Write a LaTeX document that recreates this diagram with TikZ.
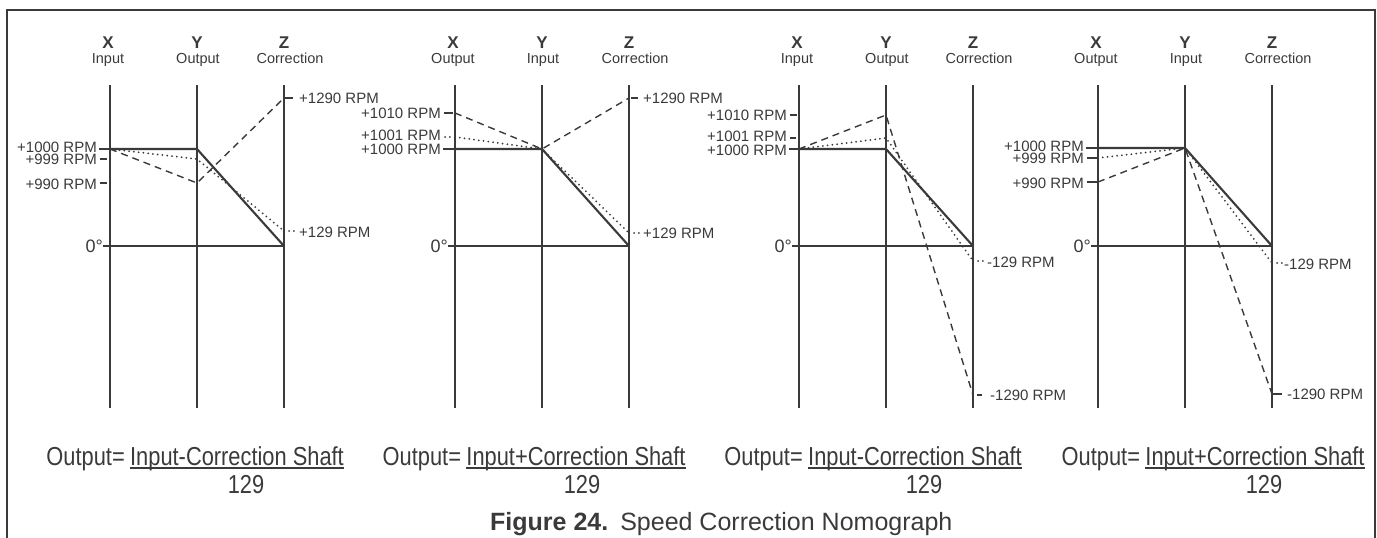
\documentclass[tikz,border=0pt]{standalone}
\usepackage{fontspec}
\setmainfont{Liberation Sans}
\newfontfamily\narrowfont{Liberation Sans}[FakeStretch=0.84]
\usetikzlibrary{positioning}
\definecolor{ink}{RGB}{58,58,58}

\tikzset{
  frame/.style={draw=ink, line width=2.2pt},
  axis/.style={draw=ink, line width=1.7pt},
  solidpath/.style={draw=ink, line width=2.1pt, line join=round},
  dashpath/.style={draw=ink, line width=1.4pt, dash pattern=on 7pt off 5pt},
  dotpath/.style={draw=ink, line width=2pt, line cap=round, dash pattern=on 0pt off 4.8pt},
  tick/.style={draw=ink, line width=1.3pt},
  axletter/.style={text=ink, inner sep=0pt, anchor=base, font=\fontsize{17}{18}\selectfont\bfseries},
  axname/.style={text=ink, inner sep=0pt, anchor=base, font=\fontsize{14.5}{15}\selectfont},
  rpmleft/.style={text=ink, inner sep=0pt, anchor=east, font=\fontsize{15}{16}\selectfont},
  rpmright/.style={text=ink, inner sep=0pt, anchor=west, font=\fontsize{15}{16}\selectfont},
  zerolbl/.style={text=ink, inner sep=0pt, anchor=east, font=\fontsize{18}{19}\selectfont},
  formula/.style={text=ink, inner sep=0pt, font=\fontsize{26}{27}\selectfont\narrowfont},
  uline/.style={draw=ink, line width=1.5pt},
  caption/.style={text=ink, inner sep=0pt, anchor=base west, font=\fontsize{25}{26}\selectfont}
}

\begin{document}
\begin{tikzpicture}[x=1pt,y=-1pt]
\useasboundingbox (0,0) rectangle (1377,538);
\draw[frame] (7,538) -- (7,10) -- (1375,10) -- (1375,538);

% the three scales of every panel
\foreach \p/\x/\xn/\yn in {a/110/Input/Output,b/455/Output/Input,c/799/Input/Output,d/1098/Output/Input}{
  \coordinate (\p Xtop) at (\x,85);
  \coordinate (\p Xbot) at (\x,408);
  \coordinate (\p Ytop) at (\x+87,85);
  \coordinate (\p Ybot) at (\x+87,408);
  \coordinate (\p Ztop) at (\x+174,85);
  \coordinate (\p Zbot) at (\x+174,408);
  \draw[axis] (\p Xtop) -- (\p Xbot);
  \draw[axis] (\p Ytop) -- (\p Ybot);
  \draw[axis] (\p Ztop) -- (\p Zbot);
  \coordinate (\p zero) at (\x-7,246);
  \coordinate (\p Zzero) at (\x+174,246);
  \draw[axis] (\p zero) -- (\p Zzero);
  \node[zerolbl] (\p deg) at (\p zero) {0°};
  \node[axletter] (\p Xl) at (\x-2,48) {X};
  \node[axletter] (\p Yl) at (\x+87,48) {Y};
  \node[axletter] (\p Zl) at (\x+174,48) {Z};
  \node[axname] (\p Xn) at (\x-2,63) {\xn};
  \node[axname] (\p Yn) at (\x+88,63) {\yn};
  \node[axname] (\p Zn) at (\x+180,63) {Correction};
}

% panel a
\coordinate (aX1000) at (110,149);
\coordinate (aX999) at (110,159);
\coordinate (aX990) at (110,183);
\coordinate (aY1000) at (197,149);
\coordinate (aY999) at (197,159);
\coordinate (aY990) at (197,183);
\coordinate (aZ1290) at (284,98);
\coordinate (aZ129) at (284,231);
\draw[solidpath] (aX1000) -- (aY1000) -- (aZzero);
\draw[dashpath] (aX1000) -- (aY990) -- (aZ1290);
\draw[dotpath] (aX1000) -- (aY999) -- (aZ129);
\node[rpmleft] (aL1000) at (97,147.5) {+1000 RPM};
\node[rpmleft] (aL999) at (97,159.8) {+999 RPM};
\node[rpmleft] (aL990) at (97,184) {+990 RPM};
\draw[tick, shorten <=2pt] (aL1000.east |- aX1000) -- (aX1000);
\draw[tick, shorten <=3pt, shorten >=3pt] (aL999.east |- aX999) -- (aX999);
\draw[tick, shorten <=3pt, shorten >=3pt] (aL990.east |- aX990) -- (aX990);
\node[rpmright] (aR1290) at (299,98) {+1290 RPM};
\node[rpmright] (aR129) at (299,232) {+129 RPM};
\draw[tick, shorten >=6pt] (aZ1290) -- (aR1290.west |- aZ1290);
\draw[dotpath, shorten <=5pt, shorten >=2pt] (aZ129) -- (aR129.west |- aZ129);

% panel b
\coordinate (bX1010) at (455,113);
\coordinate (bX1001) at (455,137);
\coordinate (bX1000) at (455,149);
\coordinate (bY1000) at (542,149);
\coordinate (bZ1290) at (629,98);
\coordinate (bZ129) at (629,233);
\draw[solidpath] (bX1000) -- (bY1000) -- (bZzero);
\draw[dashpath] (bX1010) -- (bY1000) -- (bZ1290);
\draw[dotpath] (bX1001) -- (bY1000) -- (bZ129);
\node[rpmleft] (bL1010) at (441,113) {+1010 RPM};
\node[rpmleft] (bL1001) at (441,135) {+1001 RPM};
\node[rpmleft] (bL1000) at (441,149) {+1000 RPM};
\draw[tick, shorten <=3pt, shorten >=2pt] (bL1010.east |- bX1010) -- (bX1010);
\draw[dotpath, shorten <=4pt, shorten >=2pt] (bL1001.east |- bX1001) -- (bX1001);
\draw[tick, shorten <=2pt] (bL1000.east |- bX1000) -- (bX1000);
\node[rpmright] (bR1290) at (643,98) {+1290 RPM};
\node[rpmright] (bR129) at (643,233) {+129 RPM};
\draw[tick, shorten <=2pt, shorten >=5pt] (bZ1290) -- (bR1290.west |- bZ1290);
\draw[dotpath, shorten <=5pt, shorten >=2pt] (bZ129) -- (bR129.west |- bZ129);

% panel c
\coordinate (cX1000) at (799,149);
\coordinate (cX1001) at (799,138);
\coordinate (cX1010) at (799,115);
\coordinate (cY1000) at (886,149);
\coordinate (cY1001) at (886,138);
\coordinate (cY1010) at (886,115);
\coordinate (cZ129) at (973,261);
\coordinate (cZ1290) at (973,395);
\draw[solidpath] (cX1000) -- (cY1000) -- (cZzero);
\draw[dashpath] (cX1000) -- (cY1010) -- (cZ1290);
\draw[dotpath] (cX1000) -- (cY1001) -- (cZ129);
\node[rpmleft] (cL1010) at (787,115) {+1010 RPM};
\node[rpmleft] (cL1001) at (787,136) {+1001 RPM};
\node[rpmleft] (cL1000) at (787,150) {+1000 RPM};
\draw[tick, shorten <=3pt, shorten >=2pt] (cL1010.east |- cX1010) -- (cX1010);
\draw[tick, shorten <=3pt, shorten >=3pt] (cL1001.east |- cX1001) -- (cX1001);
\draw[tick, shorten <=2pt] (cL1000.east |- cX1000) -- (cX1000);
\node[rpmright] (cR129) at (987,262) {-129 RPM};
\node[rpmright] (cR1290) at (990,395) {-1290 RPM};
\draw[dotpath, shorten <=5pt, shorten >=2pt] (cZ129) -- (cR129.west |- cZ129);
\draw[tick, shorten <=4pt, shorten >=8pt] (cZ1290) -- (cR1290.west |- cZ1290);

% panel d
\coordinate (dX1000) at (1098,148);
\coordinate (dX999) at (1098,158);
\coordinate (dX990) at (1098,182);
\coordinate (dY1000) at (1185,148);
\coordinate (dZ129) at (1272,263);
\coordinate (dZ1290) at (1272,394);
\draw[solidpath] (dX1000) -- (dY1000) -- (dZzero);
\draw[dotpath] (dX999) -- (dY1000) -- (dZ129);
\draw[dashpath] (dX990) -- (dY1000) -- (dZ1290);
\node[rpmleft] (dL1000) at (1084,146.5) {+1000 RPM};
\node[rpmleft] (dL999) at (1084,158.8) {+999 RPM};
\node[rpmleft] (dL990) at (1084,183) {+990 RPM};
\draw[tick, shorten <=2pt] (dL1000.east |- dX1000) -- (dX1000);
\draw[tick, shorten <=3pt] (dL999.east |- dX999) -- (dX999);
\draw[tick, shorten <=3pt] (dL990.east |- dX990) -- (dX990);
\node[rpmright] (dR129) at (1284,264) {-129 RPM};
\node[rpmright] (dR1290) at (1287,394) {-1290 RPM};
\draw[dotpath, shorten <=5pt, shorten >=2pt] (dZ129) -- (dR129.west |- dZ129);
\draw[tick, shorten >=5pt] (dZ1290) -- (dR1290.west |- dZ1290);

% formulas
\node[formula, anchor=base] (au) at (237,465) {Input-Correction Shaft};
\node[formula, base left=5pt of au] (ao) {Output=};
\draw[uline] ([yshift=-3pt]au.base west) -- ([yshift=-3pt]au.base east);
\node[formula, anchor=base] (an) at (246,493) {129};

\node[formula, anchor=base] (bu) at (576,465) {Input+Correction Shaft};
\node[formula, base left=5pt of bu] (bo) {Output=};
\draw[uline] ([yshift=-3pt]bu.base west) -- ([yshift=-3pt]bu.base east);
\node[formula, anchor=base] (bn) at (582,493) {129};

\node[formula, anchor=base] (cu) at (915,465) {Input-Correction Shaft};
\node[formula, base left=5pt of cu] (co) {Output=};
\draw[uline] ([yshift=-3pt]cu.base west) -- ([yshift=-3pt]cu.base east);
\node[formula, anchor=base] (cn) at (924,493) {129};

\node[formula, anchor=base] (du) at (1255,465) {Input+Correction Shaft};
\node[formula, base left=5pt of du] (do) {Output=};
\draw[uline] ([yshift=-3pt]du.base west) -- ([yshift=-3pt]du.base east);
\node[formula, anchor=base] (dn) at (1264,493) {129};

\node[caption] (cap) at (490,530) {\textbf{Figure 24.}\hspace{12pt}Speed Correction Nomograph};
\end{tikzpicture}
\end{document}
